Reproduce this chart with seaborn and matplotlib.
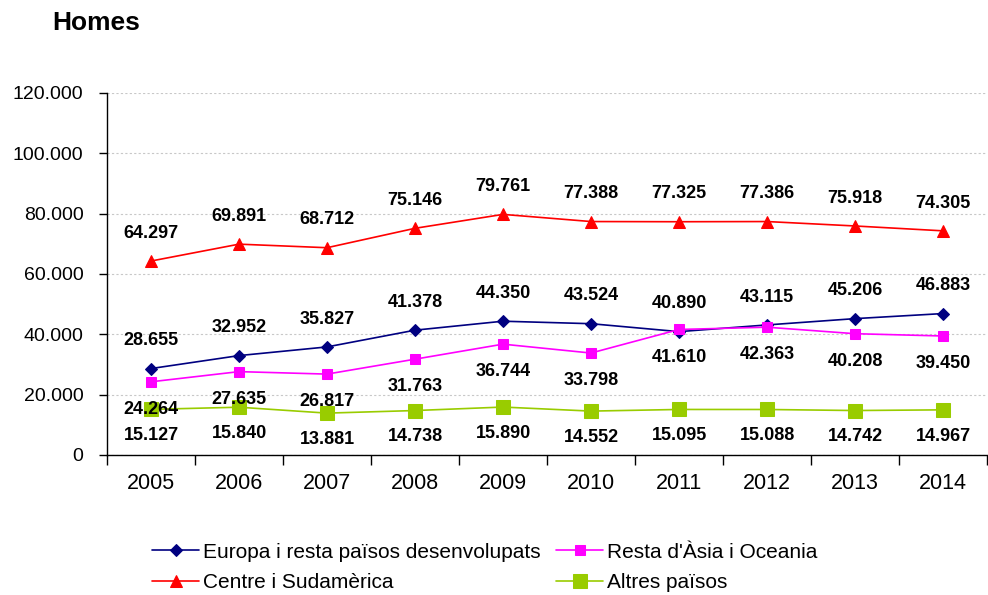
import numpy as np
import pandas as pd
import matplotlib
matplotlib.use("Agg")
import matplotlib.pyplot as plt
import seaborn as sns
from matplotlib.ticker import FuncFormatter, MultipleLocator

# Dades
anys = ["2005", "2006", "2007", "2008", "2009", "2010", "2011", "2012", "2013", "2014"]
europa = [28655, 32952, 35827, 41378, 44350, 43524, 40890, 43115, 45206, 46883]
resta_asia = [24264, 27635, 26817, 31763, 36744, 33798, 41610, 42363, 40208, 39450]
centre_sud = [64297, 69891, 68712, 75146, 79761, 77388, 77325, 77386, 75918, 74305]
altres = [15127, 15840, 13881, 14738, 15890, 14552, 15095, 15088, 14742, 14967]

noms = ["Europa i resta països desenvolupats", "Resta d'Àsia i Oceania",
        "Centre i Sudamèrica", "Altres països"]
valors = [europa, resta_asia, centre_sud, altres]

sns.set_theme(style="white")
plt.rcParams['font.family'] = ['Liberation Sans', 'DejaVu Sans']
plt.rcParams['text.color'] = 'black'
plt.rcParams['xtick.color'] = 'black'
plt.rcParams['ytick.color'] = 'black'
plt.rcParams['axes.labelcolor'] = 'black'


def fmt_miles(v):
    # format amb punt com a separador de milers
    return f"{int(round(v)):,}".replace(",", ".")


# estil de cada sèrie: color, marcador, mida, posició de l'etiqueta
estils = {
    noms[0]: dict(color="#000080", marker="D", ms=6, off=20),
    noms[1]: dict(color="#FF00FF", marker="s", ms=7, off=-20),
    noms[2]: dict(color="#FF0000", marker="^", ms=8, off=20),
    noms[3]: dict(color="#99CC00", marker="s", ms=10.5, off=-19),
}

df = pd.DataFrame({"pos": np.tile(np.arange(len(anys)), len(noms)),
                   "serie": np.repeat(noms, len(anys)),
                   "valor": np.concatenate(valors)})

fig = plt.figure(figsize=(9.88, 5.95), dpi=100)
ax = fig.add_axes([0.1083, 0.2353, 0.8907, 0.6084])

for nom in noms:
    e = estils[nom]
    d = df[df["serie"] == nom]
    sns.lineplot(data=d, x="pos", y="valor", ax=ax, color=e["color"],
                 marker=e["marker"], markersize=e["ms"], markeredgecolor=e["color"],
                 linewidth=1.2, label=nom)
    for x, y in zip(d["pos"], d["valor"]):
        ax.annotate(fmt_miles(y), (x, y), xytext=(0, e["off"]), textcoords="offset points",
                    ha="center", va="center", fontsize=13, fontweight="bold", color="black")

ax.set_xlim(-0.5, len(anys) - 0.5)
ax.set_ylim(0, 120000)
ax.yaxis.set_major_locator(MultipleLocator(20000))
ax.yaxis.set_major_formatter(FuncFormatter(lambda v, p: fmt_miles(v)))
ax.set_xticks(np.arange(len(anys)))
ax.set_xticklabels(anys)
ax.set_xticks(np.arange(len(anys) + 1) - 0.5, minor=True)
ax.tick_params(axis="x", which="major", length=0, pad=13, labelsize=15.5)
ax.tick_params(axis="x", which="minor", length=7, width=1, color="black", direction="out")
ax.tick_params(axis="y", length=6, width=1, color="black", direction="out", labelsize=14, pad=11)
ax.xaxis.set_ticks_position("bottom")
ax.yaxis.set_ticks_position("left")
ax.set_xlabel("")
ax.set_ylabel("")

ax.grid(axis="y", color="#c8c8c8", linestyle=(0, (2, 2)), linewidth=0.8)
ax.grid(axis="x", visible=False)
for s in ["top", "right"]:
    ax.spines[s].set_visible(False)
for s in ["left", "bottom"]:
    ax.spines[s].set_color("black")
    ax.spines[s].set_linewidth(1)

# llegenda en dues columnes
h, l = ax.get_legend_handles_labels()
ordre = [0, 2, 1, 3]
ax.legend([h[i] for i in ordre], [l[i] for i in ordre], ncol=2, frameon=False,
          loc="upper left", bbox_to_anchor=(0.030, -0.19), fontsize=15,
          handlelength=2.25, handletextpad=0.2, columnspacing=0.75, labelspacing=0.55)

fig.text(0.053, 0.962, "Homes", fontsize=19, fontweight="bold", va="center", ha="left")

fig.savefig("out.png", dpi=100)
